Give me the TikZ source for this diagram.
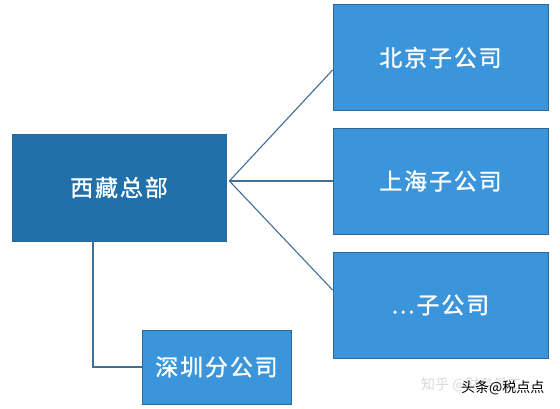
\documentclass[tikz,border=0pt]{standalone}
\usepackage{fontspec}
\setmainfont{Noto Sans CJK SC}
\newfontfamily\boxfont{Noto Sans CJK SC}[FakeBold=1.2, LetterSpace=8]
\usetikzlibrary{positioning}

\definecolor{hqblue}{HTML}{2170AA}
\definecolor{subblue}{HTML}{3A95DA}
\definecolor{edgeblue}{HTML}{2B6797}
\definecolor{linkblue}{HTML}{3F6F96}

\begin{document}
\begin{tikzpicture}[x=1pt, y=-1pt,
        hqbox/.style={draw=edgeblue, fill=hqblue, line width=0.8pt, text=white,
            minimum width=214pt, minimum height=107pt, font=\boxfont\fontsize{23}{26}\selectfont},
        subbox/.style={draw=edgeblue, fill=subblue, line width=0.8pt, text=white,
            minimum width=215pt, minimum height=106pt, font=\boxfont\fontsize{23}{26}\selectfont},
        branchbox/.style={draw=edgeblue, fill=subblue, line width=0.8pt, text=white,
            minimum width=149pt, minimum height=74pt, font=\boxfont\fontsize{23}{26}\selectfont},
        link/.style={linkblue, line width=1.1pt},
        mark text/.style={font=\fontsize{14}{16}\selectfont, inner sep=0pt}]
        \useasboundingbox[fill=white] (0,0) rectangle (560,409);

        % head office and companies
        \node[hqbox] (hq) at (119,187.5) {西藏总部};
        \node[subbox] (bj) at (440.5,57.5) {北京子公司};
        \node[subbox] (sh) at (440.5,181) {上海子公司};
        \node[subbox] (etc) at (440.5,305) {...子公司};
        \node[branchbox] (sz) at (216.5,367) {\raisebox{-4pt}{深圳分公司}};

        % links
        \coordinate (fork) at ([xshift=3pt,yshift=6.5pt]hq.east);
        \draw[link] (fork) -- ([yshift=-12.5pt]bj.west);
        \draw[link] (fork) -- (sh.west);
        \draw[link] (fork) -- ([yshift=15pt]etc.west);
        \draw[link] ([xshift=-26pt]hq.south) |- (sz.west);

        % watermark
        \node[mark text, text=black!15, anchor=west] (zh) at (421,385) {知乎 @财务员工};
        \node[mark text, text=black, anchor=west] (tt) at (461,388) {头条@税点点};
    \end{tikzpicture}
\end{document}
